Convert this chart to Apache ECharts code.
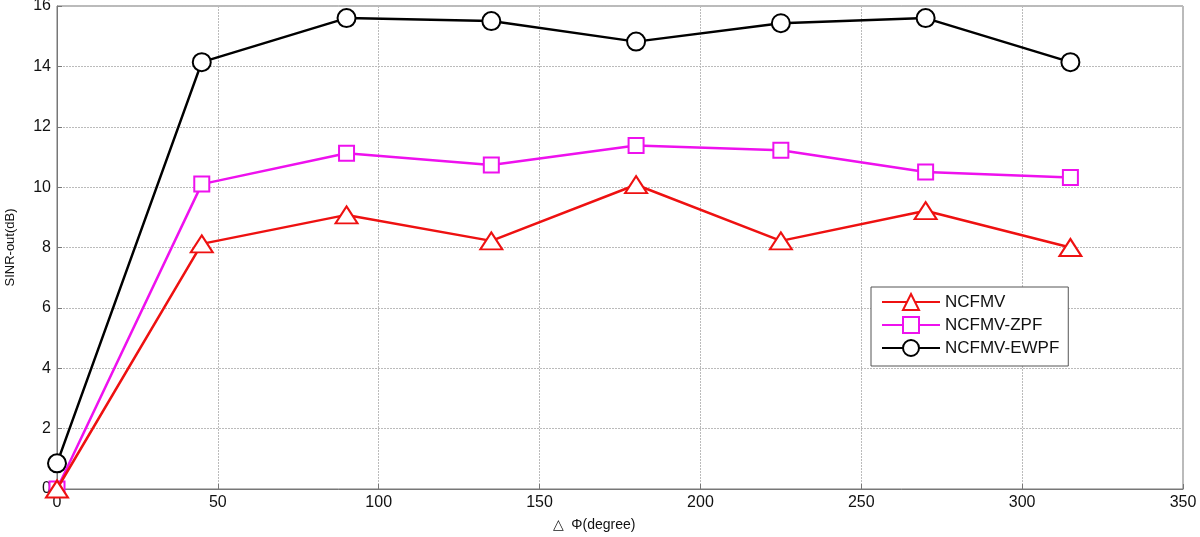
<!DOCTYPE html>
<html>
<head>
<meta charset="utf-8">
<script src="https://cdn.jsdelivr.net/npm/echarts@6/dist/echarts.min.js"></script>
<style>html,body{margin:0;padding:0;background:#fff}#c{width:1200px;height:537px}</style>
</head>
<body>
<div id="c"></div>
<script>
const xValues = [0, 45, 90, 135, 180, 225, 270, 315];
const ncfmv = [0, 8.12, 9.08, 8.22, 10.08, 8.22, 9.22, 8.0];
const ncfmvZpf = [0, 10.1, 11.12, 10.73, 11.38, 11.22, 10.5, 10.32];
const ncfmvEwpf = [0.85, 14.14, 15.6, 15.5, 14.82, 15.43, 15.6, 14.14];
const seriesNames = ['NCFMV', 'NCFMV-ZPF', 'NCFMV-EWPF'];

const pair = arr => xValues.map((x, i) => [x, arr[i]]);
const font = 'Liberation Sans, Arial, sans-serif';

const chart = echarts.init(document.getElementById('c'));
chart.setOption({
  animation: false,
  backgroundColor: '#fff',
  grid: { left: 57, right: 17, top: 6, bottom: 48, show: true, borderColor: '#777', borderWidth: 1, containLabel: false, outerBoundsMode: 'none' },
  legend: {
    data: seriesNames,
    orient: 'vertical',
    left: 871, top: 287,
    itemWidth: 58, itemHeight: 20, itemGap: 5,
    padding: [6, 9, 9, 10],
    backgroundColor: '#fff',
    borderColor: '#555', borderWidth: 1,
    textStyle: { fontFamily: font, fontSize: 17, color: '#111' }
  },
  xAxis: {
    type: 'value', min: 0, max: 350, interval: 50,
    name: '△  Φ(degree)', nameLocation: 'middle', nameGap: 29,
    nameTextStyle: { fontFamily: font, fontSize: 14, color: '#111', padding: [0, 52, 0, 0] },
    axisLine: { show: true, lineStyle: { color: '#777' } },
    axisTick: { show: true, inside: true, length: 5, lineStyle: { color: '#777' } },
    axisLabel: { fontFamily: font, fontSize: 16, color: '#111', margin: 6 },
    splitLine: { show: true, lineStyle: { color: '#bbb', type: [2, 1] } }
  },
  yAxis: {
    type: 'value', min: 0, max: 16, interval: 2,
    name: 'SINR-out(dB)', nameLocation: 'middle', nameGap: 40,
    nameTextStyle: { fontFamily: font, fontSize: 13, color: '#111' },
    axisLine: { show: true, lineStyle: { color: '#777' } },
    axisTick: { show: true, inside: true, length: 5, lineStyle: { color: '#777' } },
    axisLabel: { fontFamily: font, fontSize: 16, color: '#111', margin: 6 },
    splitLine: { show: true, lineStyle: { color: '#bbb', type: [2, 1] } }
  },
  series: [
    {
      name: seriesNames[0], type: 'line', data: pair(ncfmv),
      symbol: 'emptyTriangle', symbolSize: [22, 17], z: 4,
      lineStyle: { color: '#ee1111', width: 2.5 },
      itemStyle: { color: '#ee1111', borderColor: '#ee1111', borderWidth: 2.5 }
    },
    {
      name: seriesNames[1], type: 'line', data: pair(ncfmvZpf),
      symbol: 'emptyRect', symbolSize: 15, z: 3,
      lineStyle: { color: '#ee11ee', width: 2.5 },
      itemStyle: { color: '#ee11ee', borderColor: '#ee11ee', borderWidth: 2.5 }
    },
    {
      name: seriesNames[2], type: 'line', data: pair(ncfmvEwpf),
      symbol: 'emptyCircle', symbolSize: 18, z: 2,
      lineStyle: { color: '#000', width: 2.5 },
      itemStyle: { color: '#000', borderColor: '#000', borderWidth: 2.5 }
    }
  ]
});
</script>
</body>
</html>
